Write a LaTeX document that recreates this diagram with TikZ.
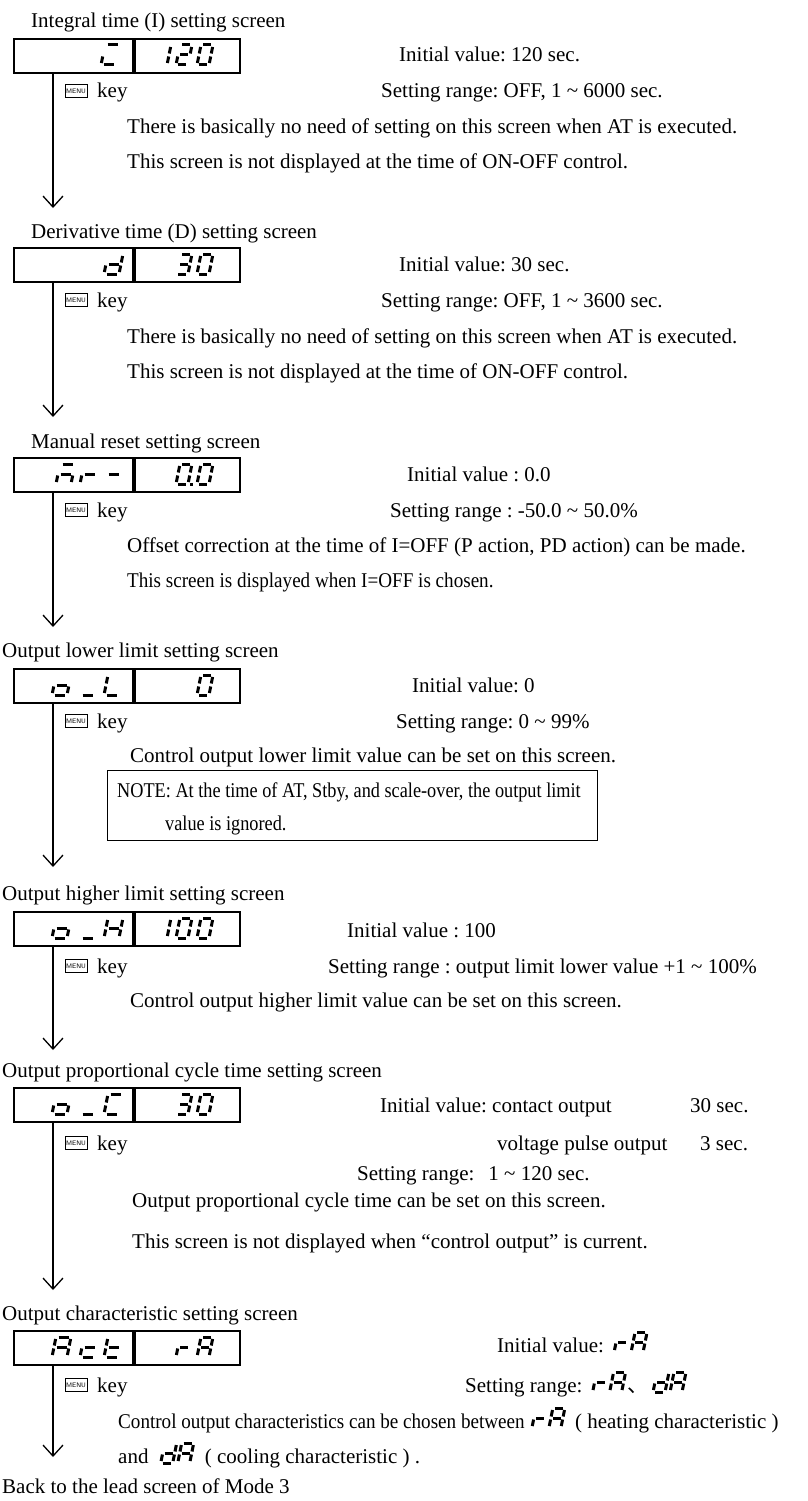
\documentclass[tikz,border=0pt]{standalone}
\usepackage{fontspec}
\setmainfont{Liberation Serif}
\newfontfamily\narrow{Liberation Serif}[FakeStretch=0.91]
\newfontfamily\notefont{Liberation Serif}[FakeStretch=0.87]
\newfontfamily\cjk{Noto Sans CJK JP}
\usetikzlibrary{arrows.meta,calc}
\frenchspacing

% segmenti del display a 7 segmenti
\def\lcda{(2,20)--(10,20)}
\def\lcdb{(12,18)--(12,11.5)}
\def\lcdc{(12,8.5)--(12,2)}
\def\lcdd{(2,0)--(10,0)}
\def\lcde{(0,8.5)--(0,2)}
\def\lcdf{(0,18)--(0,11.5)}
\def\lcdg{(2,10)--(10,10)}
\def\lcdp{(14,0)--(16.5,0)}
% caratteri
\def\chzero{a,b,c,d,e,f}
\def\chone{b,c}
\def\chtwo{a,b,g,e,d}
\def\chthree{a,b,g,c,d}
\def\chA{a,b,c,e,f,g}
\def\chd{b,c,d,e,g}
\def\chr{e,g}
\def\cho{c,d,e,g}
\def\chus{d}
\def\chH{b,c,e,f,g}
\def\chL{d,e,f}
\def\chC{a,d,e,f}
\def\chc{d,e,g}
\def\cht{d,e,f,g}
\def\chdash{g}
\def\chM{a,c,e,g}
\def\chI{a,e,d}

\newcommand{\lcd}[3][]{%
  \begin{scope}[shift={#2},xslant=0.2,#1]
    \edef\lcdlist{#3}
    \foreach \s in \lcdlist {\edef\lcdpath{\csname lcd\s\endcsname}\draw[lcdseg] \lcdpath;}
  \end{scope}}

\tikzset{
  cell/.style={draw, line width=1.8pt, minimum height=34pt, inner sep=0pt, anchor=north west},
  lcdseg/.style={line width=3pt},
  wide/.style={xscale=1.25},
  flow/.style={line width=1.3pt, -{Straight Barb[length=11pt,width=20pt]}},
  txt/.style={anchor=base west, inner sep=0pt},
  ntxt/.style={txt, font=\fontsize{21}{25}\narrow},
  notetxt/.style={txt, font=\fontsize{21}{25}\notefont},
  menukey/.style={draw, line width=0.6pt, minimum width=22pt, minimum height=13pt,
    inner sep=0pt, font=\sffamily\fontsize{6.5}{7}\selectfont},
}

\begin{document}
\begin{tikzpicture}[x=1pt,y=1pt,font=\fontsize{21}{25}\selectfont]
  \fill[white] (0,0) rectangle (808,-1501);
  \useasboundingbox (0,0) rectangle (808,-1501);

  % display e frecce
  \foreach \i/\ytop/\ytip in {1/38/208, 2/247/417, 3/457/627, 4/668/867,
                               5/911/1050, 6/1087/1290, 7/1330/1457} {
    \node[cell, minimum width=119pt] (l\i) at (13,-\ytop) {};
    \node[cell, minimum width=105pt] (r\i) at (l\i.north east) {};
    \coordinate (t\i) at (53,-\ytip);
    \draw[flow] (t\i |- l\i.south) -- (t\i);
  }
  % tasto MENU
  \foreach \i/\y in {1/98, 2/307, 3/517, 4/728, 5/973, 6/1150, 7/1392} {
    \node[menukey] (m\i) at (76,{-\y+7}) {MENU};
    \node[txt] (k\i) at (97,-\y) {key};
  }

  % I
  \node[txt] (title1) at (31,-28) {Integral time (I) setting screen};
  \lcd[wide]{(101,-65)}{\chI}
  \lcd{(155,-65)}{\chone} \lcd{(176,-65)}{\chtwo} \lcd{(197,-65)}{\chzero}
  \node[txt] (iv1) at (399,-62) {Initial value: 120 sec.};
  \node[txt] (sr1) at (381,-98) {Setting range: OFF, 1 \textasciitilde{} 6000 sec.};
  \node[txt] (n1a) at (127,-133) {There is basically no need of setting on this screen when AT is executed.};
  \node[txt] (n1b) at (127,-168) {This screen is not displayed at the time of ON-OFF control.};

  % D
  \node[txt] (title2) at (31,-238) {Derivative time (D) setting screen};
  \lcd[wide]{(104,-274)}{\chd}
  \lcd{(176,-274)}{\chthree} \lcd{(197,-274)}{\chzero}
  \node[txt] (iv2) at (399,-271) {Initial value: 30 sec.};
  \node[txt] (sr2) at (381,-307) {Setting range: OFF, 1 \textasciitilde{} 3600 sec.};
  \node[txt] (n2a) at (127,-343) {There is basically no need of setting on this screen when AT is executed.};
  \node[txt] (n2b) at (127,-378) {This screen is not displayed at the time of ON-OFF control.};

  % reset manuale
  \node[txt] (title3) at (31,-448) {Manual reset setting screen};
  \lcd[wide]{(56,-484)}{\chM} \lcd[wide]{(80,-484)}{\chr} \lcd[wide]{(104,-484)}{\chdash}
  \lcd{(176,-484)}{\chzero,p} \lcd{(197,-484)}{\chzero}
  \node[txt] (iv3) at (407,-481) {Initial value : 0.0};
  \node[txt] (sr3) at (390,-517) {Setting range : -50.0 \textasciitilde{} 50.0\%};
  \node[txt] (n3a) at (127,-552) {Offset correction at the time of I=OFF (P action, PD action) can be made.};
  \node[ntxt] (n3b) at (127,-587) {This screen is displayed when I=OFF is chosen.};

  % limite inferiore
  \node[txt] (title4) at (2,-657) {Output lower limit setting screen};
  \lcd[wide]{(52,-695)}{\cho} \lcd[wide]{(80,-695)}{\chus} \lcd[wide]{(104,-695)}{\chL}
  \lcd{(197,-695)}{\chzero}
  \node[txt] (iv4) at (412,-692) {Initial value: 0};
  \node[txt] (sr4) at (396,-728) {Setting range: 0 \textasciitilde{} 99\%};
  \node[txt] (n4a) at (130,-762) {Control output lower limit value can be set on this screen.};
  \node[draw, line width=1.2pt, minimum width=490pt, minimum height=70pt,
        anchor=north west, inner sep=0pt] (note) at (107,-770) {};
  \node[notetxt] (note1) at (117,-797) {NOTE: At the time of AT, Stby, and scale-over, the output limit};
  \node[notetxt] (note2) at (165,-830) {value is ignored.};

  % limite superiore
  \node[txt] (title5) at (2,-900) {Output higher limit setting screen};
  \lcd[wide]{(52,-938)}{\cho} \lcd[wide]{(80,-938)}{\chus} \lcd[wide]{(104,-938)}{\chH}
  \lcd{(155,-938)}{\chone} \lcd{(176,-938)}{\chzero} \lcd{(197,-938)}{\chzero}
  \node[txt] (iv5) at (347,-937) {Initial value : 100};
  \node[txt] (sr5) at (328,-973) {Setting range : output limit lower value +1 \textasciitilde{} 100\%};
  \node[txt] (n5a) at (130,-1007) {Control output higher limit value can be set on this screen.};

  % tempo di ciclo
  \node[txt] (title6) at (2,-1077) {Output proportional cycle time setting screen};
  \lcd[wide]{(52,-1114)}{\cho} \lcd[wide]{(80,-1114)}{\chus} \lcd[wide]{(104,-1114)}{\chC}
  \lcd{(176,-1114)}{\chthree} \lcd{(197,-1114)}{\chzero}
  \node[txt] (iv6) at (380,-1112) {Initial value: contact output};
  \node[txt] (iv6b) at (690,-1112) {30 sec.};
  \node[txt] (vp6) at (497,-1150) {voltage pulse output};
  \node[txt] (vp6b) at (700,-1150) {3 sec.};
  \node[txt] (sr6) at (357,-1180) {Setting range:\hspace{14pt}1 \textasciitilde{} 120 sec.};
  \node[txt] (n6a) at (132,-1207) {Output proportional cycle time can be set on this screen.};
  \node[txt] (n6b) at (132,-1248) {This screen is not displayed when “control output” is current.};

  % caratteristica
  \node[txt] (title7) at (2,-1320) {Output characteristic setting screen};
  \lcd[wide]{(52,-1357)}{\chA} \lcd[wide]{(80,-1357)}{\chc} \lcd[wide]{(104,-1357)}{\cht}
  \lcd{(176,-1357)}{\chr} \lcd{(197,-1357)}{\chA}
  \node[txt] (iv7) at (497,-1352) {Initial value:};
  \lcd{($(iv7.base east)+(10,0)$)}{\chr} \lcd{($(iv7.base east)+(27,0)$)}{\chA}
  \node[txt] (sr7) at (465,-1392) {Setting range:};
  \lcd{($(sr7.base east)+(10,0)$)}{\chr} \lcd{($(sr7.base east)+(27,0)$)}{\chA}
  \node[txt] (sep7) at ($(sr7.base east)+(45,0)$) {\cjk 、};
  \lcd{($(sep7.base east)+(4,0)$)}{\chd} \lcd{($(sep7.base east)+(21,0)$)}{\chA}
  \node[ntxt] (n7a) at (118,-1428) {Control output characteristics can be chosen between};
  \lcd{($(n7a.base east)+(7,0)$)}{\chr} \lcd{($(n7a.base east)+(24,0)$)}{\chA}
  \node[txt] (n7b) at ($(n7a.base east)+(50,0)$) {( heating characteristic )};
  \node[txt] (n7c) at (118,-1463) {and};
  \lcd{($(n7c.base east)+(12,0)$)}{\chd} \lcd{($(n7c.base east)+(29,0)$)}{\chA}
  \node[txt] (n7d) at ($(n7c.base east)+(56,0)$) {( cooling characteristic ) .};
  \node[txt] (back) at (2,-1493) {Back to the lead screen of Mode 3};
\end{tikzpicture}
\end{document}
